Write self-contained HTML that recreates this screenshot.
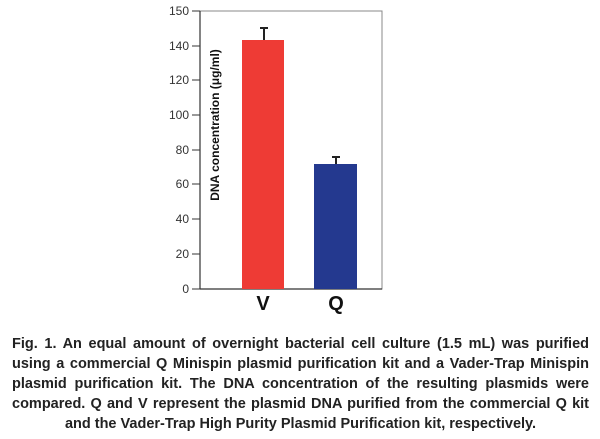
<!DOCTYPE html>
<html><head><style>
html,body{margin:0;padding:0;background:#fff;width:600px;height:439px;overflow:hidden}
.cap{position:absolute;left:12px;width:577px;font-family:"Liberation Sans",sans-serif;font-weight:bold;font-size:14.5px;color:#222;line-height:20px}
.cap div{text-align:justify;text-align-last:justify;white-space:nowrap}
.cap div.last{text-align:center;text-align-last:center}
</style></head><body>
<svg width="600" height="439" style="position:absolute;left:0;top:0" font-family="Liberation Sans, sans-serif">
<rect x="200" y="11" width="182" height="278" fill="none" stroke="#888" stroke-width="1"/>
<line x1="200" y1="11" x2="200" y2="289" stroke="#333" stroke-width="1.2"/>
<line x1="200" y1="289" x2="382" y2="289" stroke="#333" stroke-width="1.2"/>
<g stroke="#333" stroke-width="1">
<line x1="192" y1="289" x2="200" y2="289"/><line x1="192" y1="254" x2="200" y2="254"/>
<line x1="192" y1="219" x2="200" y2="219"/><line x1="192" y1="184" x2="200" y2="184"/>
<line x1="192" y1="150" x2="200" y2="150"/><line x1="192" y1="115" x2="200" y2="115"/>
<line x1="192" y1="80" x2="200" y2="80"/><line x1="192" y1="46" x2="200" y2="46"/>
<line x1="192" y1="11" x2="200" y2="11"/>
</g>
<g font-size="12" fill="#333" text-anchor="end">
<text x="189" y="293">0</text><text x="189" y="258">20</text><text x="189" y="223">40</text>
<text x="189" y="188">60</text><text x="189" y="154">80</text><text x="189" y="119">100</text>
<text x="189" y="84">120</text><text x="189" y="50">140</text><text x="189" y="15">150</text>
</g>
<text transform="translate(219,125) rotate(-90)" text-anchor="middle" font-size="12" font-weight="bold" fill="#111">DNA concentration (μg/ml)</text>
<rect x="242" y="40" width="42" height="249" fill="#ee3b35"/>
<rect x="314" y="164" width="43" height="125" fill="#24398f"/>
<g stroke="#222" stroke-width="2">
<line x1="264" y1="40" x2="264" y2="28"/><line x1="260" y1="28" x2="268" y2="28"/>
<line x1="336" y1="164" x2="336" y2="157"/><line x1="332" y1="157" x2="340" y2="157"/>
</g>
<text x="263" y="310" text-anchor="middle" font-size="20" font-weight="bold" fill="#111">V</text>
<text x="336" y="310" text-anchor="middle" font-size="20" font-weight="bold" fill="#111">Q</text>
</svg>
<div class="cap" style="top:334px">
<div>Fig. 1. An equal amount of overnight bacterial cell culture (1.5 mL) was purified</div>
<div>using a commercial Q Minispin plasmid purification kit and a Vader-Trap Minispin</div>
<div>plasmid purification kit. The DNA concentration of the resulting plasmids were</div>
<div>compared. Q and V represent the plasmid DNA purified from the commercial Q kit</div>
<div class="last">and the Vader-Trap High Purity Plasmid Purification kit, respectively.</div>
</div>
</body></html>
